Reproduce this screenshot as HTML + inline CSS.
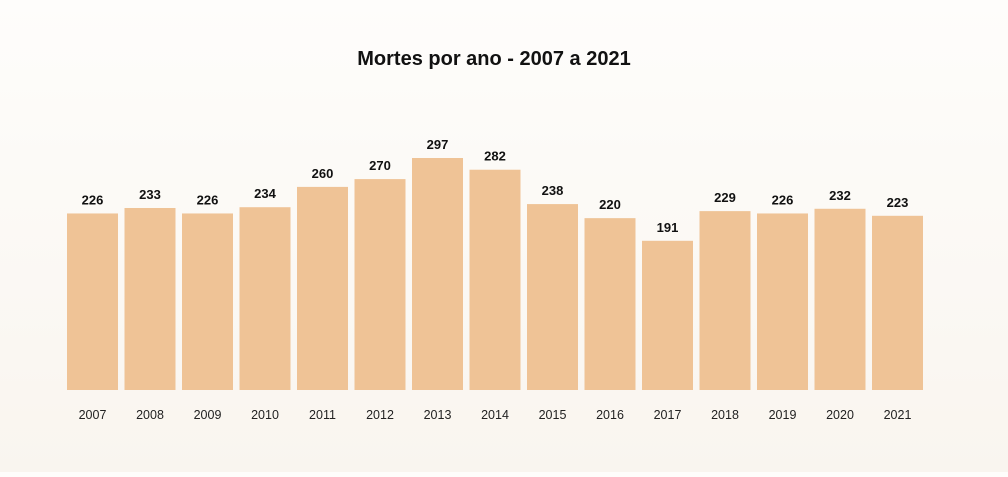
<!DOCTYPE html>
<html><head><meta charset="utf-8"><style>
body{margin:0;width:1008px;height:472px;overflow:hidden;background:linear-gradient(#fefdfb,#f9f5ef);font-family:"Liberation Sans",sans-serif}
</style></head><body>
<svg width="1008" height="472">
<text x="494" y="65" text-anchor="middle" font-size="20" font-weight="bold" fill="#111">Mortes por ano - 2007 a 2021</text>
<g id="bars"></g>
</svg>
<script>
const years=["2007","2008","2009","2010","2011","2012","2013","2014","2015","2016","2017","2018","2019","2020","2021"];
const deaths=[226,233,226,234,260,270,297,282,238,220,191,229,226,232,223];
const baseY=390,scale=232/297,x0=67,pitch=57.5,bw=51;
const xPos=i=>x0+i*pitch;
const yPos=v=>baseY-v*scale;
const g=document.getElementById('bars');
const ns="http://www.w3.org/2000/svg";
years.forEach((yr,i)=>{
 const v=deaths[i];
 const r=document.createElementNS(ns,'rect');
 
 
 r.setAttribute('x',xPos(i));r.setAttribute('y',yPos(v));
 r.setAttribute('width',bw);r.setAttribute('height',baseY-yPos(v));
 r.setAttribute('fill','#efc396');g.appendChild(r);
 const t=document.createElementNS(ns,'text');
 
 
 t.setAttribute('x',xPos(i)+bw/2);t.setAttribute('y',yPos(v)-9);
 t.setAttribute('text-anchor','middle');t.setAttribute('font-size','13');t.setAttribute('font-weight','bold');t.setAttribute('fill','#111');
 t.textContent=v;g.appendChild(t);
 const l=document.createElementNS(ns,'text');
 
 
 l.setAttribute('x',xPos(i)+bw/2);l.setAttribute('y',419);
 l.setAttribute('text-anchor','middle');l.setAttribute('font-size','12.5');l.setAttribute('fill','#222');
 l.textContent=yr;g.appendChild(l);
});
</script>
</body></html>
